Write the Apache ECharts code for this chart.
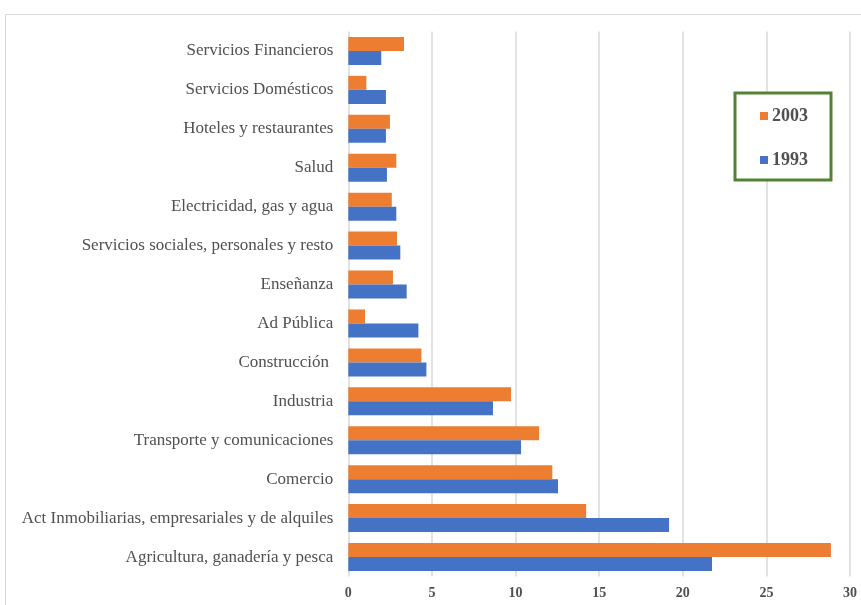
<!DOCTYPE html>
<html>
<head>
<meta charset="utf-8">
<script src="https://cdn.jsdelivr.net/npm/echarts@6/dist/echarts.min.js"></script>
<style>html,body{margin:0;padding:0;background:#fff}#c{width:861px;height:605px}</style>
</head>
<body>
<div id="c"></div>
<script>
const categories = [
  "Servicios Financieros",
  "Servicios Domésticos",
  "Hoteles y restaurantes",
  "Salud",
  "Electricidad, gas y agua",
  "Servicios sociales, personales y resto",
  "Enseñanza",
  "Ad Pública",
  "Construcción ",
  "Industria",
  "Transporte y comunicaciones",
  "Comercio",
  "Act Inmobiliarias, empresariales y de alquiles",
  "Agricultura, ganadería y pesca"
];
const values2003 = [3.33, 1.08, 2.49, 2.87, 2.60, 2.91, 2.67, 1.00, 4.37, 9.73, 11.41, 12.20, 14.22, 28.86];
const values1993 = [1.97, 2.25, 2.25, 2.31, 2.87, 3.11, 3.49, 4.19, 4.67, 8.65, 10.33, 12.54, 19.18, 21.75];
const xTicks = [0, 5, 10, 15, 20, 25, 30];

const chart = echarts.init(document.getElementById('c'), null, {renderer: 'canvas'});
const serif = '"Liberation Serif", "DejaVu Serif", serif';
chart.setOption({
  animation: false,
  backgroundColor: '#fff',
  graphic: [
    {type: 'rect', shape: {x: 5.5, y: 14.5, width: 900, height: 700}, style: {fill: 'none', stroke: '#d9d9d9', lineWidth: 1}, silent: true, z: -10},
    {type: 'rect', shape: {x: 735, y: 93, width: 96, height: 87}, style: {fill: '#fff', stroke: '#548235', lineWidth: 3}, z: 5}
  ],
  legend: {
    orient: 'vertical',
    left: 755,
    top: 102,
    itemWidth: 8,
    itemHeight: 8,
    itemGap: 26,
    icon: 'rect',
    z: 10,
    data: ['2003', '1993'],
    textStyle: {fontFamily: serif, fontSize: 18, fontWeight: 'bold', color: '#505050', padding: [0, 0, 0, -1]}
  },
  grid: {left: 348.3, right: 11, top: 31.5, bottom: 28.5, containLabel: false},
  xAxis: {
    type: 'value',
    min: xTicks[0],
    max: xTicks[xTicks.length - 1],
    interval: 5,
    axisLine: {show: false},
    axisTick: {show: false},
    splitLine: {lineStyle: {color: '#d9d9d9', width: 1.5}},
    axisLabel: {fontFamily: serif, fontSize: 14, fontWeight: 'bold', color: '#505050', margin: 10}
  },
  yAxis: {
    type: 'category',
    inverse: true,
    data: categories,
    axisLine: {show: false},
    axisTick: {show: false},
    axisLabel: {fontFamily: serif, fontSize: 17, color: '#505050', margin: 15}
  },
  series: [
    {name: '2003', type: 'bar', data: values2003, itemStyle: {color: '#ED7D31'}, barGap: '0%', barCategoryGap: '28%'},
    {name: '1993', type: 'bar', data: values1993, itemStyle: {color: '#4472C4'}, barGap: '0%', barCategoryGap: '28%'}
  ]
});
</script>
</body>
</html>
